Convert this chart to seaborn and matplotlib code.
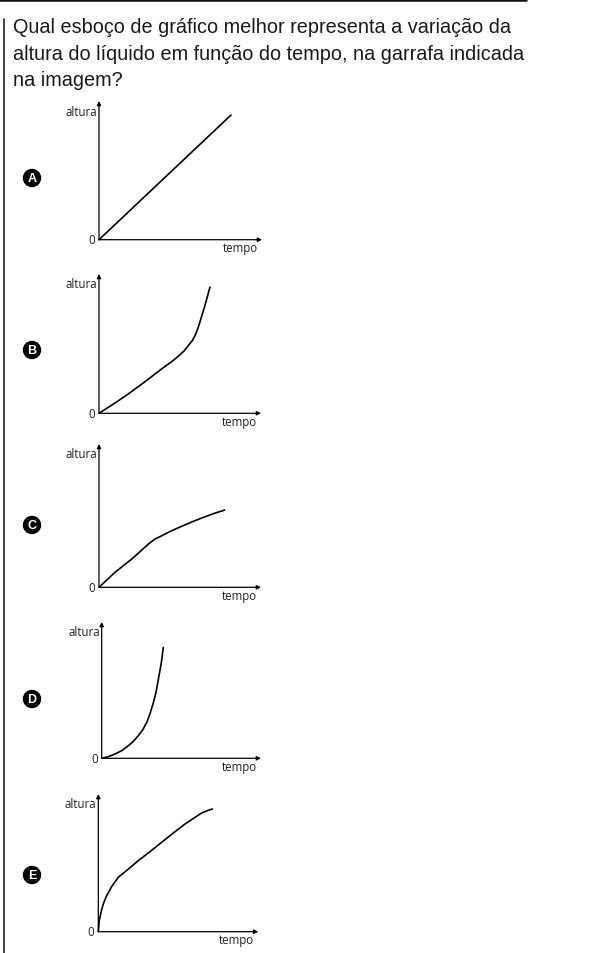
import matplotlib
matplotlib.use("Agg")
from matplotlib import pyplot as plt
import seaborn as sns

sns.set_style("white")
plt.rcParams['font.family'] = ['Liberation Sans', 'DejaVu Sans']

# enunciado da questão
question = [
    "Qual esboço de gráfico melhor representa a variação da",
    "altura do líquido em função do tempo, na garrafa indicada",
    "na imagem?",
]

options = ["A", "B", "C", "D", "E"]

# curvas (tempo, altura) em unidades 0..10
tempo_a = [0, 8.1]
altura_a = [0, 8.99]

tempo_b = [0, 0.99, 1.81, 2.84, 3.87, 4.49, 4.9, 5.27, 5.51, 5.76, 5.93, 6.09,
           6.23, 6.38, 6.54, 6.7, 6.85]
altura_b = [0, 0.74, 1.39, 2.27, 3.19, 3.71, 4.1, 4.5, 4.86, 5.22, 5.58, 6.06,
            6.55, 7.14, 7.74, 8.42, 9.06]

tempo_c = [0, 0.99, 2.02, 2.64, 3.05, 3.46, 3.88, 4.49, 5.11, 5.73, 6.35, 7.07, 7.75]
altura_c = [0, 1.05, 1.97, 2.6, 3.02, 3.37, 3.6, 3.95, 4.26, 4.56, 4.84, 5.14, 5.39]

tempo_d = [0, 0.42, 0.84, 1.26, 1.67, 1.99, 2.3, 2.58, 2.83, 3.04, 3.25, 3.42,
           3.56, 3.73, 3.87]
altura_d = [0, 0.12, 0.32, 0.56, 0.92, 1.25, 1.66, 2.1, 2.64, 3.3, 4.11, 4.89,
            5.82, 6.92, 8.14]

tempo_e = [0, 0.06, 0.17, 0.31, 0.52, 0.83, 1.25, 1.88, 2.5, 3.23, 3.96, 4.69,
           5.42, 6.04, 6.46, 6.88, 7.13]
altura_e = [0, 0.8, 1.41, 2.01, 2.61, 3.27, 3.95, 4.55, 5.16, 5.81, 6.49, 7.17,
            7.82, 8.3, 8.62, 8.82, 8.91]

curves = [(tempo_a, altura_a), (tempo_b, altura_b), (tempo_c, altura_c),
          (tempo_d, altura_d), (tempo_e, altura_e)]

# posição de cada gráfico em pixels: origem x, origem y, ponta x, ponta y
boxes = [
    (99, 240.7, 262, 102),
    (99, 414.3, 261, 275),
    (99, 588.3, 261, 445),
    (101.7, 759.3, 261, 623),
    (98.3, 932.7, 258.3, 795),
]
letter_y = [179, 351, 526, 700, 876]

W, H = 591, 954
fig = plt.figure(figsize=(W / 100, H / 100), dpi=100)

# moldura
fig.add_artist(plt.Line2D([0, 526 / W], [1 - 1.2 / H, 1 - 1.2 / H], color='#111111', lw=1.8))
fig.add_artist(plt.Line2D([3.5 / W, 3.5 / W], [0, 1 - 20 / H], color='#111111', lw=1.1))

for i, line in enumerate(question):
    fig.text(13 / W, 1 - (33 + 26.5 * i) / H, line, fontsize=14.3, va='baseline',
             ha='left', color='#1a1a1a')

for (t, h), (ox, oy, tx, ty), opt, ly in zip(curves, boxes, options, letter_y):
    ax = fig.add_axes([ox / W, 1 - oy / H, (tx - ox) / W, (oy - ty) / H])
    ax.set_xlim(0, 10)
    ax.set_ylim(0, 10)
    ax.axis('off')
    arrow = dict(arrowstyle='-|>', lw=0.9, color='black', mutation_scale=6,
                 shrinkA=0, shrinkB=0)
    ax.annotate('', xy=(10, 0), xytext=(0, 0), arrowprops=arrow, annotation_clip=False)
    ax.annotate('', xy=(0, 10), xytext=(0, 0), arrowprops=arrow, annotation_clip=False)
    sns.lineplot(x=t, y=h, ax=ax, color='black', linewidth=1.2, sort=False,
                 estimator=None, legend=False)
    for ln in ax.lines:
        ln.set_clip_on(False)
        ln.set_solid_joinstyle('round')

    small = dict(fontsize=8.3, family=['Open Sans', 'DejaVu Sans'], color='#222222')
    fig.text((ox - 2) / W, 1 - (ty + 10) / H, "altura", ha='right', va='center', **small)
    fig.text((ox - 4) / W, 1 - oy / H, "0", ha='right', va='center', **small)
    fig.text((tx - 4) / W, 1 - (oy + 8) / H, "tempo", ha='right', va='center', **small)

    fig.text(32 / W, 1 - ly / H, opt, ha='center', va='center', color='white',
             fontsize=9, fontweight='bold',
             bbox=dict(boxstyle='circle,pad=0.2', fc='black', ec='black'))

fig.savefig("out.png", dpi=100)
